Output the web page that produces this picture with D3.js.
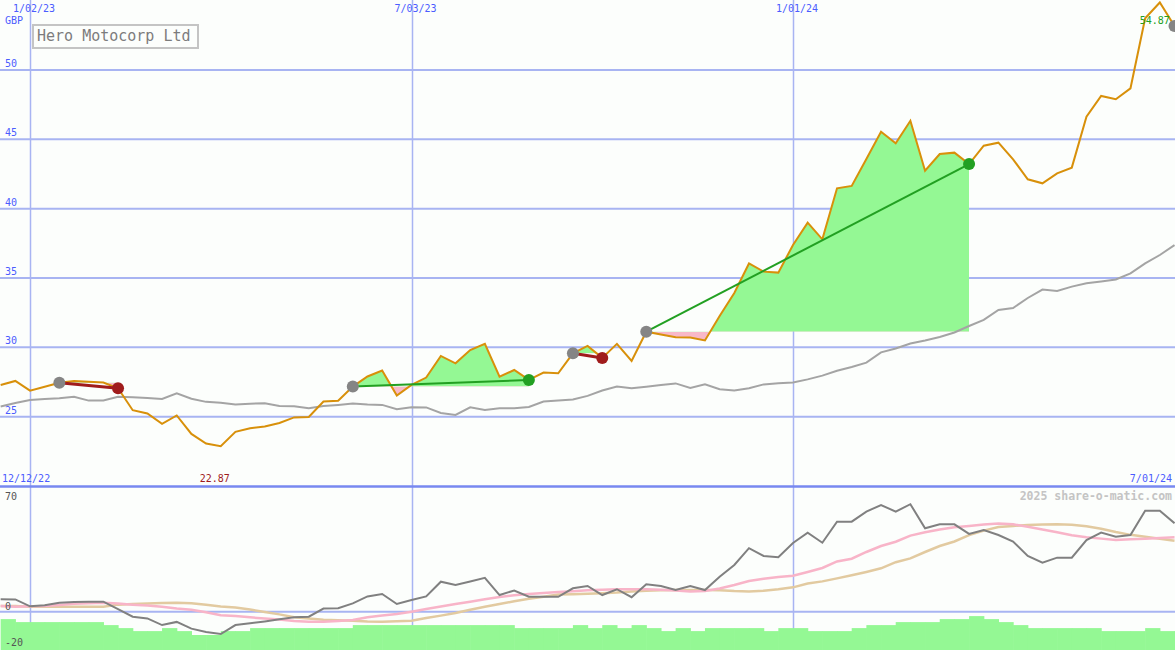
<!DOCTYPE html>
<html><head><meta charset="utf-8">
<script src="https://cdn.jsdelivr.net/npm/d3@7"></script>
<style>html,body{margin:0;padding:0;background:#fcfefc;} svg{display:block}</style>
</head><body>
<svg id="c" width="1175" height="650"></svg>
<script>
// ---------- data ----------
const title = "Hero Motocorp Ltd";
const currency = "GBP";
const firstWeek = "2022-12-19";
const lastWeek = "2024-07-01";
const gridDates = ["2023-01-02", "2023-07-03", "2024-01-01"];
const gridLabels = ["1/02/23", "7/03/23", "1/01/24"];
const rangeLabels = ["12/12/22", "7/01/24"];
const priceTicks = [25, 30, 35, 40, 45, 50];
const oscTicks = [70, 0, -20];
const watermark = "2025 share-o-matic.com";

const price = [27.29,27.58,26.88,27.16,27.45,27.58,27.52,27.46,27.05,25.47,
  25.23,24.48,25.09,23.76,23.07,22.87,23.91,24.17,24.29,24.55,
  24.95,24.98,26.10,26.15,27.17,27.90,28.33,26.53,27.29,27.82,
  29.38,28.85,29.81,30.25,27.89,28.37,27.65,28.18,28.13,29.57,
  30.10,29.24,30.25,29.02,31.13,30.92,30.73,30.71,30.50,32.26,
  33.92,36.05,35.46,35.39,37.38,38.99,37.79,41.47,41.64,43.58,
  45.55,44.72,46.34,42.74,43.94,44.04,43.22,44.54,44.76,43.56,
  42.12,41.83,42.55,42.96,46.63,48.13,47.89,48.68,53.73,54.87,
  53.17];
const movingAvg = [25.74,25.99,26.21,26.28,26.33,26.44,26.16,26.17,26.44,26.41,
  26.34,26.28,26.69,26.29,26.07,26.01,25.88,25.94,25.97,25.78,
  25.75,25.61,25.77,25.85,25.95,25.88,25.85,25.54,25.68,25.67,
  25.27,25.13,25.68,25.49,25.61,25.61,25.70,26.09,26.17,26.24,
  26.50,26.89,27.17,27.05,27.16,27.29,27.40,27.07,27.33,26.98,
  26.89,27.05,27.33,27.42,27.46,27.69,27.96,28.31,28.59,28.90,
  29.64,29.92,30.28,30.50,30.75,31.07,31.54,31.98,32.70,32.84,
  33.56,34.17,34.07,34.38,34.62,34.75,34.90,35.33,36.06,36.66,
  37.38];
const oscillator = [7.9,7.8,3.4,4.1,5.7,6.2,6.4,6.4,1.7,-3.2,
  -4.3,-8.5,-6.5,-10.8,-12.9,-14.2,-8.5,-7.4,-6.2,-4.8,
  -3.6,-3.2,2.0,2.2,5.3,9.7,11.3,4.9,7.4,9.7,
  19.1,17.0,19.2,21.6,10.6,13.5,9.5,9.5,9.5,14.9,
  16.4,10.6,14.3,9.2,17.4,16.4,13.8,16.4,13.8,22.3,
  29.7,40.4,35.5,34.6,43.7,50.3,43.9,57.3,57.3,63.7,
  67.9,63.7,68.4,53.1,55.6,55.6,49.5,52.0,48.8,44.6,
  35.5,31.2,34.4,34.4,45.6,50.3,47.7,48.8,64.3,64.3,
  56.3];
const oscFast = [3.6,3.2,3.4,3.6,4.3,5.1,5.4,5.7,5.2,4.5,
  3.9,3.2,2.0,1.3,-0.3,-2.2,-2.8,-3.6,-4.4,-5.0,
  -5.9,-6.4,-6.4,-5.9,-5.3,-3.5,-2.4,-1.5,0,1.7,
  3.3,4.9,6.4,7.9,9.4,10.4,11.3,11.9,12.5,13.0,
  13.6,14.0,14.3,14.3,14.3,13.9,13.5,12.9,13.2,14.8,
  17.0,19.5,20.9,22.1,22.9,25.3,27.8,32.0,33.7,38.0,
  41.8,44.5,48.4,50.5,52.3,53.8,54.6,55.5,56.1,55.6,
  54.0,52.3,50.5,48.6,47.4,46.5,45.6,46.1,46.5,46.9,
  47.4];
const oscSlow = [3.6,3.6,3.2,3.2,3.2,3.2,3.2,3.2,4.5,4.9,
  5.2,5.5,5.7,5.3,4.4,3.3,2.6,1.4,-0.2,-1.7,
  -3.5,-4.3,-5.1,-5.4,-5.7,-6.3,-6.4,-6.0,-5.7,-4.0,
  -2.5,-0.8,1.2,3.1,4.9,6.6,8.2,9.5,10.9,11.1,
  11.5,11.8,12.2,12.9,13.4,13.6,13.8,13.8,13.8,13.6,
  13.1,12.9,13.4,14.3,15.5,17.9,19.3,21.2,23.2,25.3,
  27.6,31.5,33.9,38.0,41.8,44.7,48.7,51.6,53.9,54.6,
  55.2,55.5,55.7,55.4,54.4,52.8,50.7,48.9,47.7,46.4,
  45.2];
const volume = [10.3,9.3,9.3,9.3,9.3,9.3,9.3,8.3,7.3,6.3,
  6.3,7.3,6.3,5.0,5.0,6.3,6.3,7.3,7.3,7.3,
  7.3,7.3,7.3,7.3,8.3,8.3,8.3,8.3,8.3,8.3,
  8.3,8.3,8.3,8.3,8.3,7.3,7.3,7.3,7.3,8.3,
  7.3,8.3,7.3,8.3,7.3,6.3,7.3,6.3,7.3,7.3,
  7.3,7.3,6.3,7.3,7.3,6.3,6.3,6.3,7.3,8.3,
  8.3,9.3,9.3,9.3,10.3,10.3,11.3,10.3,9.3,8.3,
  7.3,7.3,7.3,7.3,7.3,6.3,6.3,6.3,7.3,6.3,
  6.3];
const trades = [
  {entry: "2023-01-16", exit: "2023-02-13"},
  {entry: "2023-06-05", exit: "2023-08-28"},
  {entry: "2023-09-18", exit: "2023-10-02"},
  {entry: "2023-10-23", exit: "2024-03-25"}
];
const openSignal = "2024-07-01";

// ---------- setup ----------
const W = 1175, H = 650;
const parse = d3.utcParse("%Y-%m-%d");
const dates = d3.utcMonday.range(parse(firstWeek), d3.utcDay.offset(parse(lastWeek), 1));
const idxOf = s => dates.findIndex(d => +d === +parse(s));

const x = d3.scaleUtc().domain([parse(gridDates[0]), parse(gridDates[2])]).range([30, 793]);
const yT = d3.scaleLinear().domain([25, 50]).range([416.7, 70]);
const yB = d3.scaleLinear().domain([0, 70]).range([611.7, 501.7]);
const yV = d3.scaleLinear().domain([0, 20]).range([650, 590]);
const weekW = x(dates[1]) - x(dates[0]);

const svg = d3.select("#c");
const font = "'DejaVu Sans Mono', monospace";
const blue = "#4b5cff";
const gridCol = "#a8b4f2";

svg.append("rect").attr("width", W).attr("height", H).attr("fill", "#fcfefc");

const defs = svg.append("defs");
defs.append("clipPath").attr("id", "clipTop").append("rect").attr("x", 0).attr("y", 0).attr("width", W).attr("height", 486);
defs.append("clipPath").attr("id", "clipBot").append("rect").attr("x", 0).attr("y", 488).attr("width", W).attr("height", H - 488);

// grid
svg.append("g").selectAll("line").data(priceTicks).join("line")
  .attr("x1", 0).attr("x2", W).attr("y1", d => yT(d)).attr("y2", d => yT(d))
  .attr("stroke", gridCol).attr("stroke-width", 2);
svg.append("g").selectAll("line").data(gridDates).join("line")
  .attr("x1", d => Math.round(x(parse(d))) + 0.5).attr("x2", d => Math.round(x(parse(d))) + 0.5)
  .attr("y1", 0).attr("y2", H)
  .attr("stroke", gridCol).attr("stroke-width", 1.5);
svg.append("line").attr("x1", 0).attr("x2", W).attr("y1", yB(0)).attr("y2", yB(0))
  .attr("stroke", gridCol).attr("stroke-width", 2);
svg.append("line").attr("x1", 0).attr("x2", W).attr("y1", 486.5).attr("y2", 486.5)
  .attr("stroke", "#7888f0").attr("stroke-width", 2.5);

// volume bars
const gBot = svg.append("g").attr("clip-path", "url(#clipBot)");
gBot.append("g").selectAll("rect").data(volume).join("rect")
  .attr("x", (d, i) => x(dates[i]))
  .attr("width", weekW + 0.6)
  .attr("y", d => yV(d))
  .attr("height", d => yV(0) - yV(d))
  .attr("fill", "#94f894");

// oscillator lines
const lineB = arr => d3.line().x((d, i) => x(dates[i])).y(d => yB(d))(arr);
gBot.append("path").attr("d", lineB(oscSlow)).attr("fill", "none").attr("stroke", "#e2caa0").attr("stroke-width", 2.5);
gBot.append("path").attr("d", lineB(oscFast)).attr("fill", "none").attr("stroke", "#f8b4c8").attr("stroke-width", 2.5);
gBot.append("path").attr("d", lineB(oscillator)).attr("fill", "none").attr("stroke", "#808080").attr("stroke-width", 2);

// top panel
const gTop = svg.append("g").attr("clip-path", "url(#clipTop)");

// trade fills
trades.forEach((t, k) => {
  const a = idxOf(t.entry), b = idxOf(t.exit);
  const lvl = price[a];
  const idx = d3.range(a, b + 1);
  const area = d3.area().x(i => x(dates[i])).y0(yT(lvl)).y1(i => yT(price[i]));
  const x0 = x(dates[a]), x1 = x(dates[b]);
  defs.append("clipPath").attr("id", "up" + k).append("rect")
    .attr("x", x0).attr("y", 0).attr("width", x1 - x0).attr("height", yT(lvl));
  defs.append("clipPath").attr("id", "dn" + k).append("rect")
    .attr("x", x0).attr("y", yT(lvl)).attr("width", x1 - x0).attr("height", 486 - yT(lvl));
  gTop.append("path").attr("d", area(idx)).attr("fill", "#94f894").attr("clip-path", `url(#up${k})`);
  gTop.append("path").attr("d", area(idx)).attr("fill", "#f8b8c8").attr("clip-path", `url(#dn${k})`);
});

const lineT = arr => d3.line().x((d, i) => x(dates[i])).y(d => yT(d))(arr);
gTop.append("path").attr("d", lineT(movingAvg)).attr("fill", "none").attr("stroke", "#a4a4a4").attr("stroke-width", 2);
gTop.append("path").attr("d", lineT(price)).attr("fill", "none").attr("stroke", "#d8900a").attr("stroke-width", 2);

// trade lines + markers
trades.forEach(t => {
  const a = idxOf(t.entry), b = idxOf(t.exit);
  const win = price[b] > price[a];
  const col = win ? "#22a022" : "#a01c1c";
  gTop.append("line")
    .attr("x1", x(dates[a])).attr("y1", yT(price[a]))
    .attr("x2", x(dates[b])).attr("y2", yT(price[b]))
    .attr("stroke", col).attr("stroke-width", win ? 2 : 3);
  gTop.append("circle").attr("cx", x(dates[a])).attr("cy", yT(price[a])).attr("r", 6).attr("fill", "#858585");
  gTop.append("circle").attr("cx", x(dates[b])).attr("cy", yT(price[b])).attr("r", 6).attr("fill", col);
});
{
  const o = idxOf(openSignal);
  gTop.append("circle").attr("cx", x(dates[o])).attr("cy", yT(price[o])).attr("r", 6).attr("fill", "#858585");
}

// ---------- text ----------
const txt = (s, px, py, opts = {}) => svg.append("text")
  .attr("x", px).attr("y", py).text(s)
  .attr("font-family", font).attr("font-size", opts.size || 10)
  .attr("font-weight", opts.weight || "normal")
  .attr("text-anchor", opts.anchor || "start")
  .attr("fill", opts.fill || blue);

gridDates.forEach((d, i) => txt(gridLabels[i], x(parse(d)) - 17, 12));
txt(currency, 5, 24);
priceTicks.forEach(v => txt(String(v), 5, yT(v) - 3));

txt(rangeLabels[0], 2, 482);
txt(rangeLabels[1], 1172, 482, {anchor: "end"});
const iMin = d3.minIndex(price), iMax = d3.maxIndex(price);
txt(price[iMin].toFixed(2), x(dates[iMin]) - 21, 482, {fill: "#a01c1c"});
txt(price[iMax].toFixed(2), x(dates[iMax]) + 10, yT(price[iMax]) + 22, {fill: "#22a022", anchor: "end"});

const oscOff = [-2, -2, 3];
oscTicks.forEach((v, i) => txt(String(v), 5, yB(v) + oscOff[i], {fill: "#555555"}));
txt(watermark, 1172, 500, {anchor: "end", fill: "#c4c4c4", weight: "bold", size: 11.5});

// title box
svg.append("rect").attr("x", 33).attr("y", 25).attr("width", 165).attr("height", 23)
  .attr("fill", "#fcfefc").attr("stroke", "#c4c4c4").attr("stroke-width", 2);
txt(title, 37, 41, {size: 15, fill: "#7c7c7c"});
</script>
</body></html>
